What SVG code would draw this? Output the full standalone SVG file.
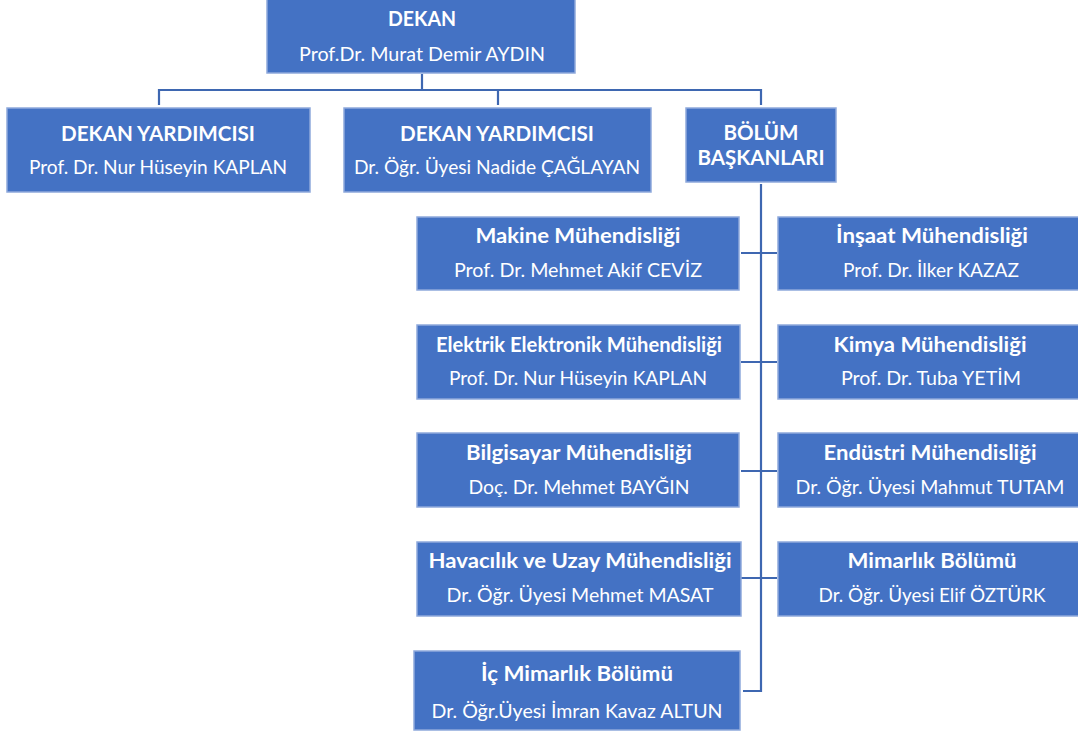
<svg xmlns="http://www.w3.org/2000/svg" width="1078" height="733" viewBox="0 0 1078 733">
<style>
.box{fill:#4472C4;stroke:#8EA9DB;stroke-width:1.5}
.t{font-family:Lato,"Liberation Sans",sans-serif;font-size:20px;fill:#FFFFFF;text-anchor:middle}
.b{font-weight:bold}
.c{fill:none;stroke:#3E67B1;stroke-width:2.2}
</style>
<rect width="1078" height="733" fill="#FFFFFF"/>
<g id="connectors">
<path class="c" d="M422,74 V90 M159,90 H762 M159,89 V105 M498,90 V105 M761,89 V105"/>
<path class="c" d="M761,184 V691 H743"/>
<path class="c" d="M741,253 H777 M741,362 H777 M741,471 H777 M741,578 H777"/>
</g>
<g id="dekan">
<rect class="box" x="267" y="-2" width="308" height="75"/>
<text class="t b" x="422" y="26" textLength="68" lengthAdjust="spacingAndGlyphs">DEKAN</text>
<text class="t" x="422" y="61" textLength="246" lengthAdjust="spacingAndGlyphs">Prof.Dr. Murat Demir AYDIN</text>
</g>
<g id="dy1">
<rect class="box" x="7" y="108" width="303" height="84"/>
<text class="t b" x="158" y="141" textLength="194" lengthAdjust="spacingAndGlyphs">DEKAN YARDIMCISI</text>
<text class="t" x="158" y="174" textLength="258" lengthAdjust="spacingAndGlyphs">Prof. Dr. Nur Hüseyin KAPLAN</text>
</g>
<g id="dy2">
<rect class="box" x="344" y="108" width="307" height="84"/>
<text class="t b" x="497" y="141" textLength="194" lengthAdjust="spacingAndGlyphs">DEKAN YARDIMCISI</text>
<text class="t" x="497" y="174" textLength="286" lengthAdjust="spacingAndGlyphs">Dr. Öğr. Üyesi Nadide ÇAĞLAYAN</text>
</g>
<g id="bolum">
<rect class="box" x="686" y="108" width="150" height="74"/>
<text class="t b" x="761" y="140" textLength="75" lengthAdjust="spacingAndGlyphs">BÖLÜM</text>
<text class="t b" x="761" y="165" textLength="127" lengthAdjust="spacingAndGlyphs">BAŞKANLARI</text>
</g>
<g id="makine">
<rect class="box" x="417" y="217" width="322" height="73"/>
<text class="t b" x="578" y="243" textLength="205" lengthAdjust="spacingAndGlyphs">Makine Mühendisliği</text>
<text class="t" x="578" y="277" textLength="248" lengthAdjust="spacingAndGlyphs">Prof. Dr. Mehmet Akif CEVİZ</text>
</g>
<g id="elektrik">
<rect class="box" x="417" y="325" width="323" height="74"/>
<text class="t b" x="579" y="352" textLength="286" lengthAdjust="spacingAndGlyphs">Elektrik Elektronik Mühendisliği</text>
<text class="t" x="578" y="385" textLength="258" lengthAdjust="spacingAndGlyphs">Prof. Dr. Nur Hüseyin KAPLAN</text>
</g>
<g id="bilgisayar">
<rect class="box" x="417" y="433" width="322" height="74"/>
<text class="t b" x="579" y="460" textLength="226" lengthAdjust="spacingAndGlyphs">Bilgisayar Mühendisliği</text>
<text class="t" x="579" y="494" textLength="221" lengthAdjust="spacingAndGlyphs">Doç. Dr. Mehmet BAYĞIN</text>
</g>
<g id="havacilik">
<rect class="box" x="417" y="542" width="324" height="74"/>
<text class="t b" x="580" y="568" textLength="303" lengthAdjust="spacingAndGlyphs">Havacılık ve Uzay Mühendisliği</text>
<text class="t" x="580" y="602" textLength="267" lengthAdjust="spacingAndGlyphs">Dr. Öğr. Üyesi Mehmet MASAT</text>
</g>
<g id="icmimarlik">
<rect class="box" x="414" y="651" width="326" height="79"/>
<text class="t b" x="577" y="681" textLength="192" lengthAdjust="spacingAndGlyphs">İç Mimarlık Bölümü</text>
<text class="t" x="577" y="718" textLength="291" lengthAdjust="spacingAndGlyphs">Dr. Öğr.Üyesi İmran Kavaz ALTUN</text>
</g>
<g id="insaat">
<rect class="box" x="778" y="217" width="306" height="73"/>
<text class="t b" x="932" y="243" textLength="192" lengthAdjust="spacingAndGlyphs">İnşaat Mühendisliği</text>
<text class="t" x="931" y="277" textLength="176" lengthAdjust="spacingAndGlyphs">Prof. Dr. İlker KAZAZ</text>
</g>
<g id="kimya">
<rect class="box" x="778" y="325" width="306" height="74"/>
<text class="t b" x="930" y="352" textLength="193" lengthAdjust="spacingAndGlyphs">Kimya Mühendisliği</text>
<text class="t" x="931" y="385" textLength="180" lengthAdjust="spacingAndGlyphs">Prof. Dr. Tuba YETİM</text>
</g>
<g id="endustri">
<rect class="box" x="778" y="433" width="306" height="74"/>
<text class="t b" x="930" y="460" textLength="213" lengthAdjust="spacingAndGlyphs">Endüstri Mühendisliği</text>
<text class="t" x="930" y="494" textLength="269" lengthAdjust="spacingAndGlyphs">Dr. Öğr. Üyesi Mahmut TUTAM</text>
</g>
<g id="mimarlik">
<rect class="box" x="778" y="542" width="306" height="74"/>
<text class="t b" x="932" y="568" textLength="169" lengthAdjust="spacingAndGlyphs">Mimarlık Bölümü</text>
<text class="t" x="932" y="602" textLength="227" lengthAdjust="spacingAndGlyphs">Dr. Öğr. Üyesi Elif ÖZTÜRK</text>
</g>
</svg>
